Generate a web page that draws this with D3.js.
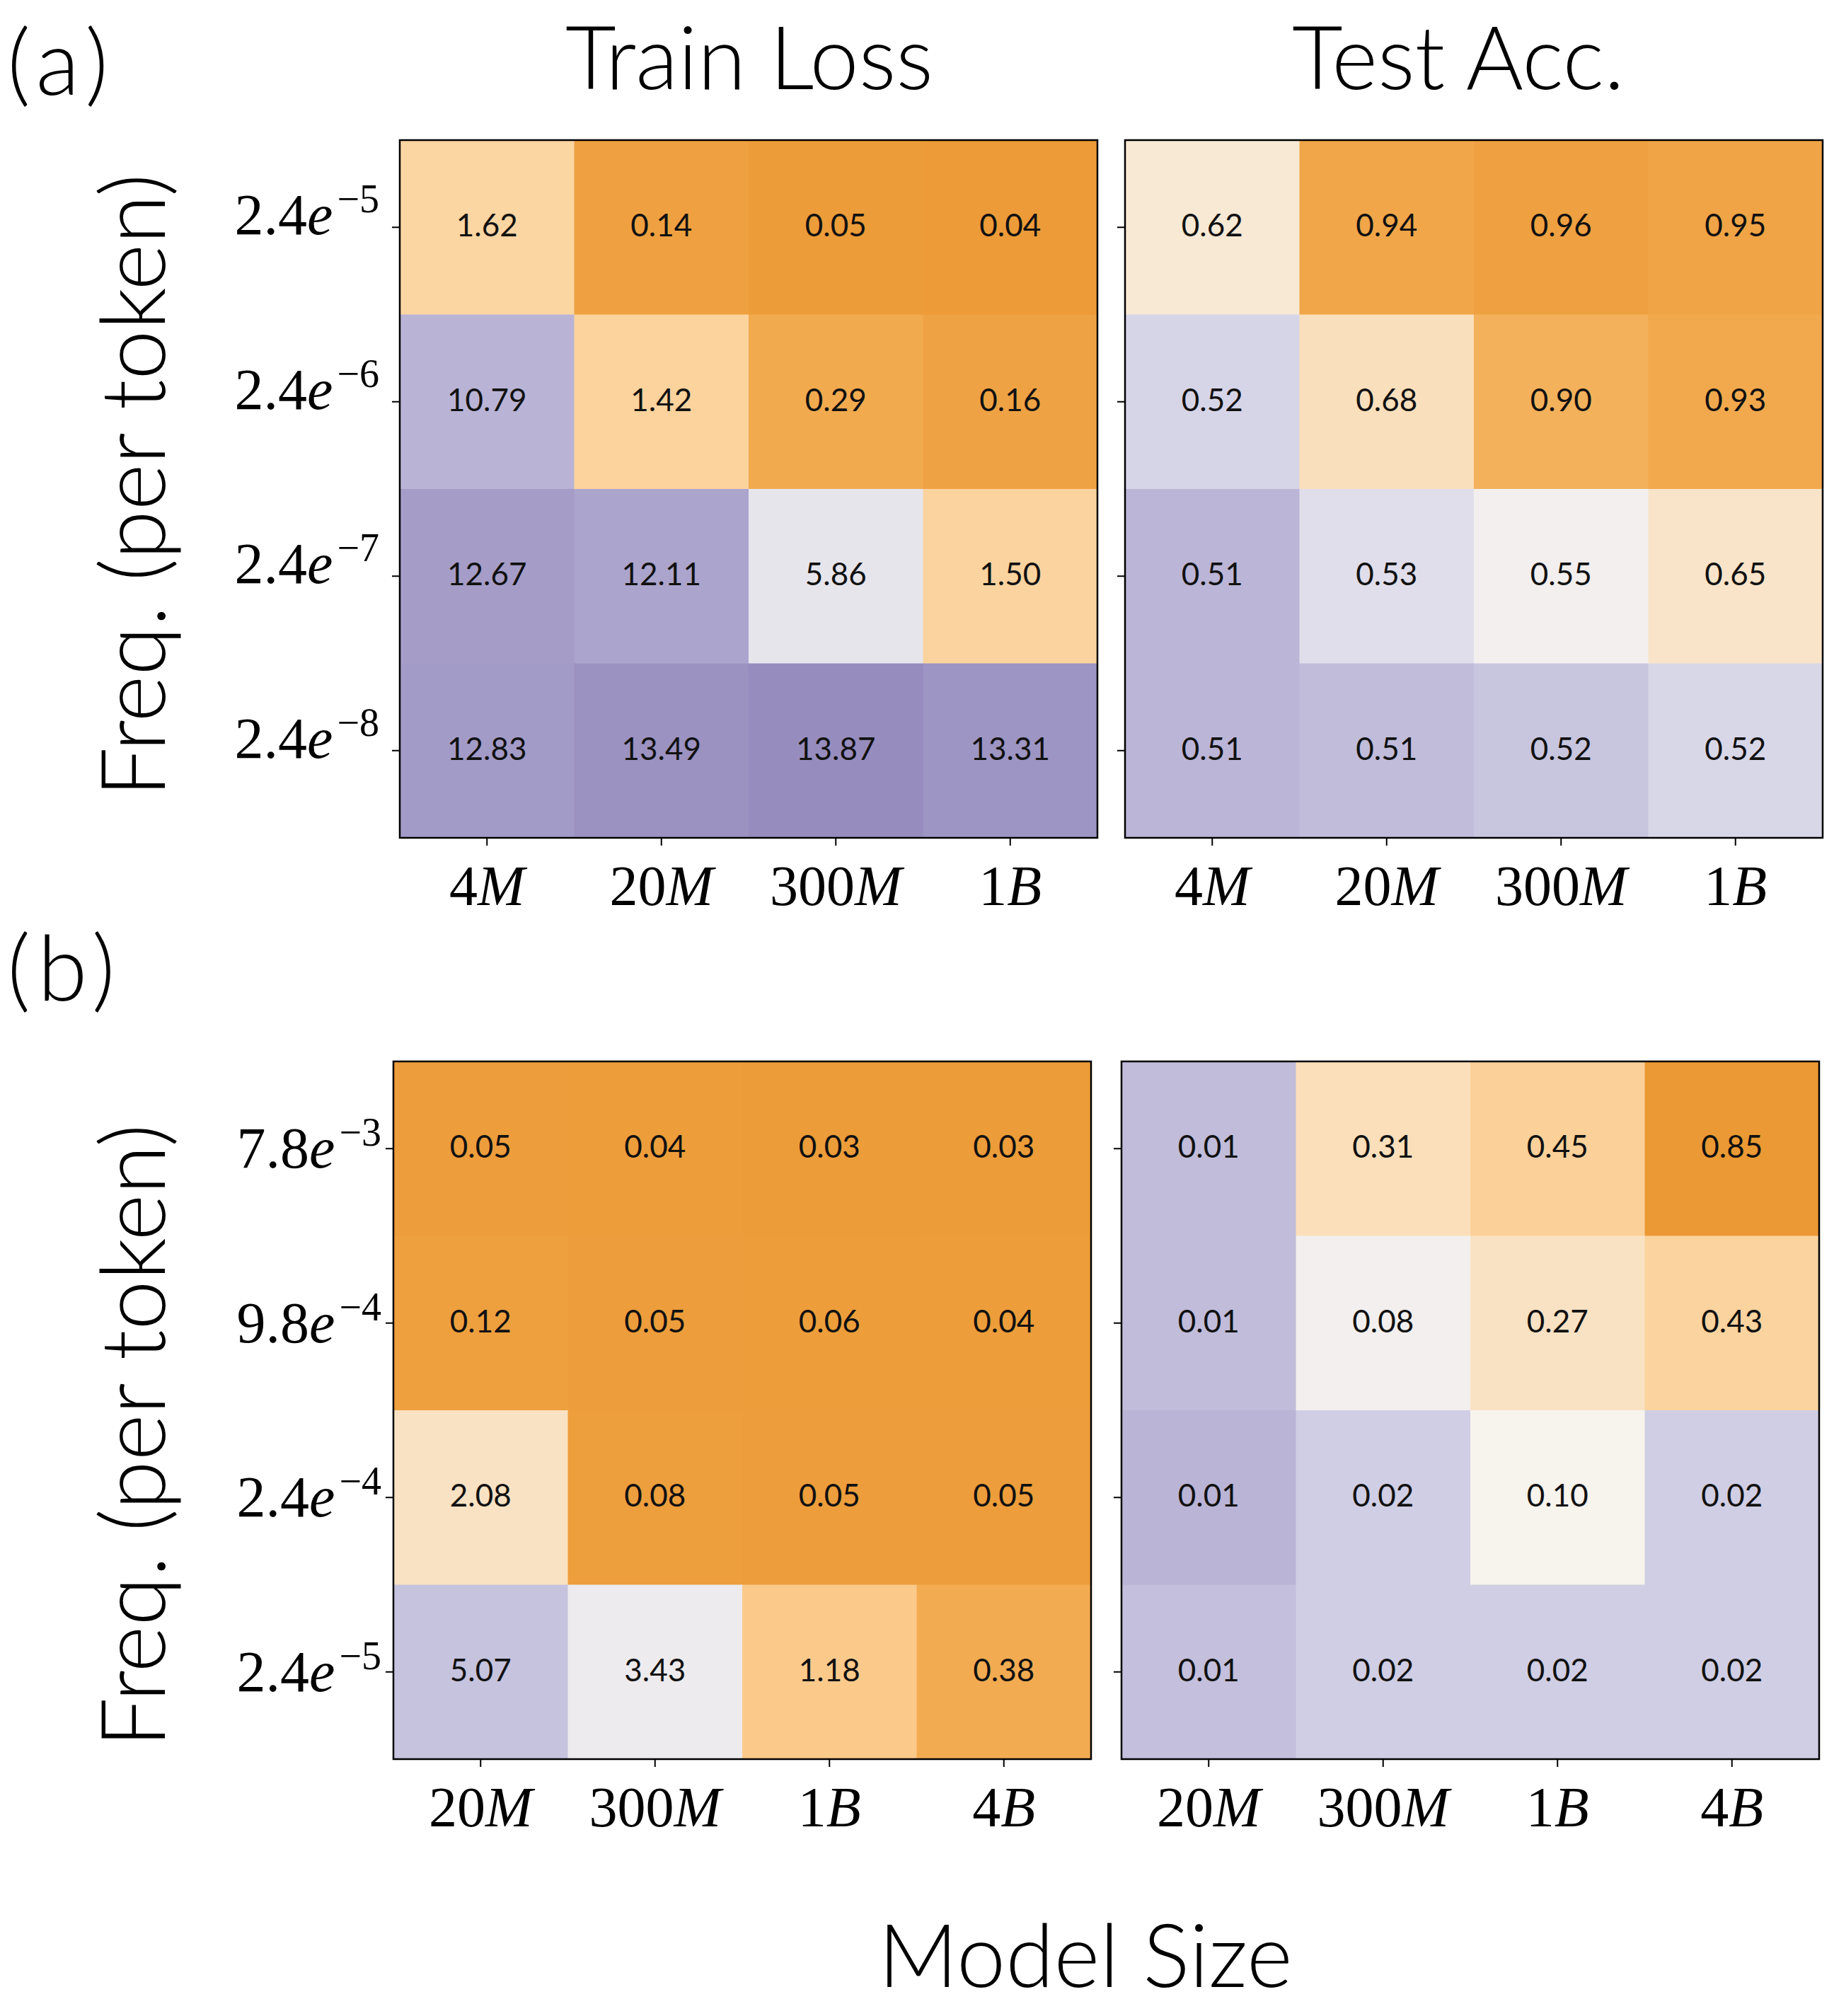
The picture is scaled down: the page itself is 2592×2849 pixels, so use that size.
<!DOCTYPE html>
<html>
<head>
<meta charset="utf-8">
<style>
  body { margin: 0; background: #fff; }
</style>
</head>
<body>
<svg id="chart"></svg>
<script src="https://cdn.jsdelivr.net/npm/d3@7"></script>
<script>
const width = 2592, height = 2849;

// tick labels
const sizesA = ["4M", "20M", "300M", "1B"];
const sizesB = ["20M", "300M", "1B", "4B"];
const freqA = ["2.4e-5", "2.4e-6", "2.4e-7", "2.4e-8"];
const freqB = ["7.8e-3", "9.8e-4", "2.4e-4", "2.4e-5"];

// cell values, rows follow the freq arrays, columns the size arrays
const lossA = [
  [1.62, 0.14, 0.05, 0.04],
  [10.79, 1.42, 0.29, 0.16],
  [12.67, 12.11, 5.86, 1.50],
  [12.83, 13.49, 13.87, 13.31]
];
const accA = [
  [0.62, 0.94, 0.96, 0.95],
  [0.522, 0.68, 0.90, 0.93],
  [0.512, 0.532, 0.55, 0.65],
  [0.512, 0.514, 0.517, 0.524]
];
const lossB = [
  [0.05, 0.04, 0.03, 0.03],
  [0.12, 0.05, 0.06, 0.04],
  [2.08, 0.08, 0.05, 0.05],
  [5.07, 3.43, 1.18, 0.38]
];
const accB = [
  [0.013, 0.31, 0.45, 0.85],
  [0.013, 0.08, 0.27, 0.43],
  [0.010, 0.02, 0.10, 0.02],
  [0.014, 0.02, 0.02, 0.02]
];

// orange -> white -> purple, each panel has its own stops
const ramp = ["#EB9934", "#F2A94D", "#FCCF94", "#F7F4EF", "#D6D5E8", "#B5AFD3", "#968DBE"];

const svg = d3.select('#chart').attr('width', width).attr('height', height);
svg.append('rect').attr('width', width).attr('height', height).attr('fill', '#fff');

const size = 986;
const sans = "Lato, 'Open Sans', sans-serif";
const serif = "'Liberation Serif', 'Times New Roman', serif";

const panels = [
  {vals: lossA, rows: freqA, cols: sizesA, x: 565, y: 198, labelDy: 10, labelPad: 18, showRows: true,
   stops: [0, 0.27, 1.1, 4.4, 7.5, 11.3, 13.9]},
  {vals: accA, rows: freqA, cols: sizesA, x: 1590, y: 198, labelDy: 10, labelPad: 18, showRows: false,
   stops: [0.99, 0.93, 0.78, 0.555, 0.522, 0.51, 0.49]},
  {vals: lossB, rows: freqB, cols: sizesB, x: 556, y: 1500, labelDy: 27, labelPad: 6, showRows: true,
   stops: [-0.05, 0.33, 1.3, 2.8, 4.9, 5.25, 6]},
  {vals: accB, rows: freqB, cols: sizesB, x: 1585, y: 1500, labelDy: 27, labelPad: 6, showRows: false,
   stops: [0.85, 0.7, 0.47, 0.09, 0.0225, 0.008, 0]}
];

panels.forEach(drawPanel);

function drawPanel(p) {
  const g = svg.append('g').attr('transform', `translate(${p.x},${p.y})`);
  const x = d3.scaleBand().domain(p.cols).range([0, size]);
  const y = d3.scaleBand().domain(p.rows).range([0, size]);
  const color = d3.scaleLinear().domain(p.stops).range(ramp).clamp(true);

  const cells = p.vals.flatMap((row, i) => row.map((v, j) => ({row: p.rows[i], col: p.cols[j], v: v})));

  g.selectAll('rect.cell').data(cells).join('rect')
    .attr('class', 'cell')
    .attr('x', d => x(d.col))
    .attr('y', d => y(d.row))
    .attr('width', x.bandwidth() + 0.6)
    .attr('height', y.bandwidth() + 0.6)
    .attr('fill', d => color(d.v));

  g.selectAll('text.val').data(cells).join('text')
    .attr('class', 'val')
    .attr('x', d => x(d.col) + x.bandwidth() / 2)
    .attr('y', d => y(d.row) + y.bandwidth() / 2 + 13)
    .attr('text-anchor', 'middle')
    .style('font-family', sans)
    .style('font-size', '44px')
    .style('fill', '#111')
    .text(d => d.v.toFixed(2));

  g.append('rect')
    .attr('width', size).attr('height', size)
    .attr('fill', 'none').attr('stroke', '#000').attr('stroke-width', 2.5);

  // y axis: ticks always, labels only on the left panels
  const yAxis = g.append('g')
    .call(d3.axisLeft(y).tickSize(11).tickSizeOuter(0).tickPadding(p.labelPad));
  yAxis.select('.domain').remove();
  yAxis.selectAll('.tick line').attr('stroke', '#000').attr('stroke-width', 2);
  yAxis.selectAll('.tick text').each(function (d) {
    const t = d3.select(this).text(null);
    if (!p.showRows) { t.remove(); return; }
    const [mant, exp] = d.split('e');
    t.attr('dy', p.labelDy).attr('fill', '#000')
      .style('font-family', serif).style('font-size', '82px');
    t.append('tspan').text(mant);
    t.append('tspan').style('font-style', 'italic').text('e');
    t.append('tspan').attr('dx', 6).attr('dy', -31).style('font-size', '56px')
      .text(exp.replace('-', '\u2212'));
  });

  // x axis
  const xAxis = g.append('g')
    .attr('transform', `translate(0,${size})`)
    .call(d3.axisBottom(x).tickSize(11).tickSizeOuter(0));
  xAxis.select('.domain').remove();
  xAxis.selectAll('.tick line').attr('stroke', '#000').attr('stroke-width', 2);
  xAxis.selectAll('.tick text').each(function (d) {
    const t = d3.select(this).text(null);
    const m = d.match(/^(\d+)(\D+)$/);
    t.attr('y', 95).attr('dy', 0).attr('fill', '#000')
      .style('font-family', serif).style('font-size', '80px');
    t.append('tspan').text(m[1]);
    t.append('tspan').style('font-style', 'italic').text(m[2]);
  });
}

// titles and labels
const labels = svg.append('g')
  .style('font-family', sans).style('font-weight', 300).attr('fill', '#000');

labels.append('text').attr('x', 1059).attr('y', 126).attr('text-anchor', 'middle')
  .style('font-size', '124px').text('Train Loss');
labels.append('text').attr('x', 2061).attr('y', 126).attr('text-anchor', 'middle')
  .style('font-size', '124px').text('Test Acc.');
labels.append('text').attr('x', 10).attr('y', 134)
  .style('font-size', '128px').style('letter-spacing', '10px').text('(a)');
labels.append('text').attr('x', 10).attr('y', 1414)
  .style('font-size', '128px').style('letter-spacing', '10px').text('(b)');
labels.append('text').attr('x', 1534).attr('y', 2808).attr('text-anchor', 'middle')
  .style('font-size', '124px').text('Model Size');

[686, 2029].forEach(cy => {
  labels.append('text')
    .attr('transform', `translate(233,${cy}) rotate(-90)`)
    .attr('text-anchor', 'middle')
    .style('font-size', '126px')
    .text('Freq. (per token)');
});
</script>
</body>
</html>
